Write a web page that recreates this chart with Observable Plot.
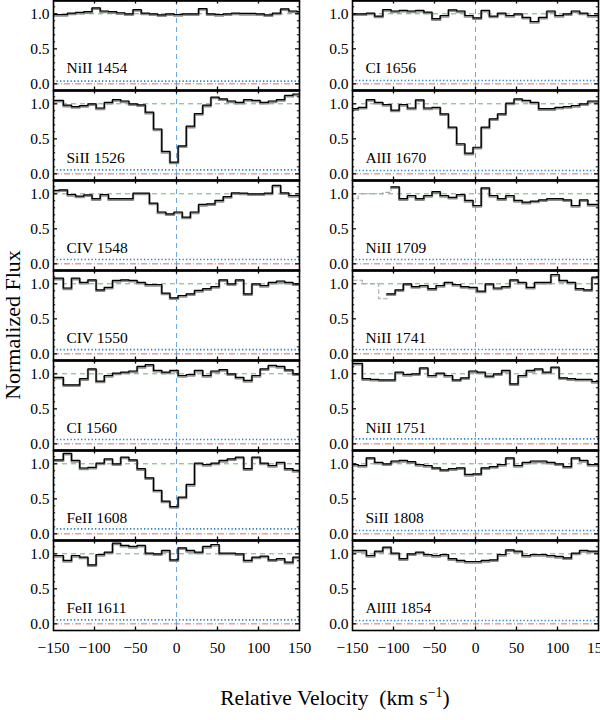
<!DOCTYPE html>
<html>
<head>
<meta charset="utf-8">
<script src="https://cdn.jsdelivr.net/npm/d3@7"></script>
<script src="https://cdn.jsdelivr.net/npm/@observablehq/plot@0.6"></script>
<style>
  body { margin: 0; background: #fff; }
  #fig { position: relative; width: 600px; height: 720px; overflow: hidden; background: #fff;
         font-family: "Liberation Serif", "Times New Roman", serif; }
  #fig svg { position: absolute; top: 0; }
</style>
</head>
<body>
<div id="fig"></div>
<script>
// ---- velocity bin edges (km/s) for the two pixel grids ----
const velEdgesA = [-158,-148,-138,-128,-118,-108,-98,-88,-78,-68,-58,-48,-38,-28,-18,-8,2,12,22,32,42,52,62,72,82,92,102,112,122,132,142,152];
const velEdgesB = [-153,-143,-133,-123,-113,-103,-93,-83,-73,-63,-53,-43,-33,-23,-13,-3,7,17,27,37,47,57,67,77,87,97,107,117,127,137,147,157];

// ---- normalized flux per transition ----
const fluxNiII1454 = [0.99,0.99,1.01,1.02,1.03,1.085,1.04,1.03,1.015,1.0,1.06,1.01,1.0,0.985,1.0,0.99,1.0,1.0,1.075,1.0,0.99,1.0,1.01,1.005,1.005,1.0,0.985,1.01,1.07,1.04,1.03];
const fluxSiII1526 = [1.05,1.05,0.98,0.96,0.975,1.0,0.94,1.02,1.06,1.04,1.0,0.985,0.88,0.64,0.32,0.167,0.40,0.68,0.86,0.98,1.095,1.07,1.04,1.02,1.06,1.05,1.02,1.04,1.06,1.12,1.14];
const fluxCIV1548  = [1.05,1.057,0.99,0.967,0.985,0.93,0.99,0.93,0.93,0.93,1.01,1.01,0.867,0.74,0.714,0.74,0.667,0.74,0.848,0.857,0.905,0.96,1.014,1.01,1.0,1.0,1.01,1.12,1.014,0.976,0.976];
const fluxCIV1550  = [1.08,1.08,0.94,1.08,1.02,1.057,0.914,0.95,1.048,1.057,1.05,1.02,0.99,0.99,0.867,0.8,0.833,0.857,0.905,0.93,0.96,1.057,1.0,1.057,0.857,1.0,0.976,1.02,1.04,1.02,1.0];
const fluxCI1560   = [0.95,0.95,0.843,0.843,0.93,1.07,0.895,0.976,1.01,1.024,1.04,1.105,1.13,1.05,1.024,1.05,0.976,0.99,1.05,0.976,1.04,1.06,1.0,0.95,0.905,0.976,1.07,1.12,1.105,1.057,1.0];
const fluxFeII1608 = [1.057,1.057,1.15,1.048,0.94,0.95,1.01,1.07,1.0,1.095,1.057,0.93,0.8,0.62,0.467,0.39,0.524,0.705,1.01,0.99,1.01,1.048,1.07,1.095,0.93,1.095,1.01,0.976,1.02,0.93,0.905];
const fluxFeII1611 = [0.976,0.976,0.905,0.976,0.952,0.843,0.99,1.024,1.152,1.12,1.105,1.12,1.01,1.0,1.048,0.914,1.086,1.048,1.024,1.105,1.133,1.01,1.01,1.0,0.905,0.952,0.967,0.914,0.93,0.88,0.952];
const fluxCI1656   = [1.0,1.0,1.01,0.967,1.06,1.04,1.05,1.04,1.05,1.024,0.93,0.976,1.057,1.04,0.976,0.943,1.05,0.967,1.01,0.976,1.0,0.95,0.89,0.95,1.04,0.976,1.0,1.04,1.01,0.976,0.976];
const fluxAlII1670 = [0.93,0.95,1.06,1.02,0.99,0.91,0.99,0.94,1.057,0.94,0.95,0.857,0.667,0.43,0.295,0.38,0.667,0.786,0.857,1.01,1.07,1.05,1.02,0.93,0.93,0.95,0.96,0.976,1.0,1.04,1.04];
const fluxNiII1709 = [0.93,1.0,1.0,1.0,1.02,1.1,0.93,0.976,0.93,0.976,1.03,0.976,0.95,0.99,0.905,0.833,1.085,0.976,0.93,0.976,0.905,0.88,0.895,0.914,0.93,0.93,0.914,0.833,0.914,0.848,0.848];
const fluxNiII1741 = [1.05,1.05,1.0,1.0,0.786,0.857,0.914,1.0,0.96,0.976,0.93,0.976,1.02,0.99,0.96,0.95,0.895,1.0,0.94,0.96,1.057,1.02,0.95,1.02,1.02,1.133,1.048,1.02,0.93,0.914,1.095];
const fluxNiII1751 = [1.15,1.15,0.93,0.92,0.914,0.914,1.024,0.99,1.0,1.085,0.976,1.01,0.976,0.914,0.943,1.04,1.024,0.967,1.0,1.048,0.857,0.976,1.048,1.07,1.024,1.095,0.943,0.93,0.92,0.92,0.89];
const fluxSiII1808 = [0.99,0.976,1.086,1.02,1.0,1.04,1.048,1.03,0.99,0.976,0.943,0.914,0.93,0.943,0.848,0.857,0.943,0.96,0.99,1.086,0.976,1.02,1.04,1.04,1.02,1.0,0.96,1.086,1.048,0.99,0.99];
const fluxAlIII1854= [1.048,1.048,0.976,1.038,1.095,1.01,0.93,1.0,1.024,0.99,0.976,0.99,0.93,0.905,0.89,0.89,0.905,0.914,0.99,1.057,1.038,0.976,0.99,0.99,0.976,0.962,0.943,1.01,1.048,1.038,1.038];

// ---- panel labels, grids, error levels, masked leading bins ----
const leftLabels  = ["NiII 1454","SiII 1526","CIV 1548","CIV 1550","CI 1560","FeII 1608","FeII 1611"];
const leftFlux    = [fluxNiII1454, fluxSiII1526, fluxCIV1548, fluxCIV1550, fluxCI1560, fluxFeII1608, fluxFeII1611];
const leftGrid    = ["B","A","B","A","A","A","A"];
const leftErr     = [0.04, 0.057, 0.062, 0.06, 0.062, 0.07, 0.057];
const leftMask    = [0,0,0,0,0,0,0];

const rightLabels = ["CI 1656","AlII 1670","NiII 1709","NiII 1741","NiII 1751","SiII 1808","AlIII 1854"];
const rightFlux   = [fluxCI1656, fluxAlII1670, fluxNiII1709, fluxNiII1741, fluxNiII1751, fluxSiII1808, fluxAlIII1854];
const rightGrid   = ["B","B","B","A","A","B","B"];
const rightErr    = [0.048, 0.048, 0.062, 0.062, 0.07, 0.048, 0.048];
const rightMask   = [0,0,5,5,0,0,0];

// ---- axes ----
const xDomain = [-150, 150];
const xTicks = [-150, -100, -50, 0, 50, 100, 150];
const xInnerTicks = [-100, -50, 0, 50, 100];
const yDomain = [-0.095, 1.19];
const yTicks = [0, 0.5, 1.0];
const yMinorTicks = [0.1, 0.2, 0.3, 0.4, 0.6, 0.7, 0.8, 0.9, 1.1];
const rows = [0,1,2,3,4,5,6];

const W = 300, panelH = 90, H = 660, mTop = 0, mBottom = 30;
const fmtX = d => d < 0 ? "\u2212" + Math.abs(d) : String(d);

function column(labels, fluxes, grids, errs, masks, mLeft, mRight) {
  const pw = W - mLeft - mRight;
  const main = [], masked = [];
  const panels = labels.map((label, row) => ({label, row, err: errs[row]}));
  labels.forEach((label, row) => {
    const e = grids[row] === "A" ? velEdgesA : velEdgesB;
    const f = fluxes[row];
    const m = masks[row];
    for (let k = m; k < f.length; k++) main.push({id: label, row, v: e[k], f: f[k]});
    main.push({id: label, row, v: e[f.length], f: f[f.length - 1]});
    if (m > 0) {
      for (let k = 0; k < m; k++) masked.push({id: label, row, v: e[k], f: f[k]});
      masked.push({id: label, row, v: e[m], f: f[m]});
    }
  });
  return Plot.plot({
    width: W, height: H,
    marginLeft: mLeft, marginRight: mRight, marginTop: mTop, marginBottom: mBottom,
    style: {background: "transparent", overflow: "visible",
            fontFamily: "'Liberation Serif', 'Times New Roman', serif", fontSize: "15.5px", color: "black"},
    x: {domain: xDomain, ticks: xTicks, tickFormat: fmtX, tickSize: 0, tickPadding: 11, label: null},
    y: {domain: yDomain, ticks: yTicks, tickFormat: d => d.toFixed(1), tickSize: 0, tickPadding: 4, label: null},
    fy: {domain: rows, padding: 0, axis: null, label: null},
    marks: [
      Plot.ruleX([0], {stroke: "#6aa8e0", strokeWidth: 1, strokeDasharray: "5,4"}),
      Plot.ruleY([1], {stroke: "#6db36d", strokeWidth: 1, strokeDasharray: "5,4"}),
      Plot.ruleY([0], {stroke: "#e06a6a", strokeWidth: 1, strokeDasharray: "6,2,1,2"}),
      Plot.ruleY(panels, {y: "err", fy: "row", stroke: "#2b7fd2", strokeWidth: 1.7, strokeDasharray: "1.3,2.2"}),
      Plot.line(masked, {x: "v", y: "f", z: "id", fy: "row", curve: "step-after", stroke: "#a8a8a8", strokeWidth: 1.1, strokeDasharray: "4,3", clip: true}),
      Plot.line(main, {x: "v", y: "f", z: "id", fy: "row", curve: "step-after", stroke: "#8c8c8c", strokeWidth: 2.4, dy: 1, clip: true}),
      Plot.line(main, {x: "v", y: "f", z: "id", fy: "row", curve: "step-after", stroke: "black", strokeWidth: 1.2, clip: true}),
      Plot.text(panels, {text: "label", fy: "row", frameAnchor: "bottom-left", textAnchor: "start", lineAnchor: "bottom", dx: 13, dy: -18, fontSize: 15.5, fill: "black"}),
      Plot.tickY(yTicks, {y: d => d, insetRight: pw - 4, stroke: "black", strokeWidth: 1.2}),
      Plot.tickY(yTicks, {y: d => d, insetLeft: pw - 4, stroke: "black", strokeWidth: 1.2}),
      Plot.tickY(yMinorTicks, {y: d => d, insetRight: pw - 2.2, stroke: "black", strokeWidth: 1}),
      Plot.tickY(yMinorTicks, {y: d => d, insetLeft: pw - 2.2, stroke: "black", strokeWidth: 1}),
      Plot.tickX(xInnerTicks, {x: d => d, insetBottom: panelH - 3.5, stroke: "black", strokeWidth: 1.3}),
      Plot.tickX(xInnerTicks, {x: d => d, insetTop: panelH - 3.5, stroke: "black", strokeWidth: 1.3}),
      Plot.frame({stroke: "black", strokeWidth: 1.6}),
      Plot.ruleY([yDomain[1]], {stroke: "black", strokeWidth: 2.6})
    ]
  });
}

const fig = document.getElementById("fig");
const left = column(leftLabels, leftFlux, leftGrid, leftErr, leftMask, 53, 1);
left.style.left = "0px";
const right = column(rightLabels, rightFlux, rightGrid, rightErr, rightMask, 53, 1);
right.style.left = "299px";
fig.appendChild(left);
fig.appendChild(right);

// axis titles
const over = d3.select(fig).append("svg")
  .attr("width", 600).attr("height", 720)
  .style("left", "0px").style("pointer-events", "none")
  .style("font-family", "'Liberation Serif', 'Times New Roman', serif");
over.append("text")
  .attr("transform", "translate(20,325) rotate(-90)")
  .attr("text-anchor", "middle")
  .attr("font-size", 22)
  .text("Normalized Flux");
const xt = over.append("text")
  .attr("x", 335).attr("y", 705)
  .attr("text-anchor", "middle")
  .attr("font-size", 21.5)
  .style("white-space", "pre");
xt.append("tspan").text("Relative Velocity  (km s");
xt.append("tspan").attr("font-size", 14).attr("dy", -8).text("\u22121");
xt.append("tspan").attr("dy", 8).text(")");
</script>
</body>
</html>
